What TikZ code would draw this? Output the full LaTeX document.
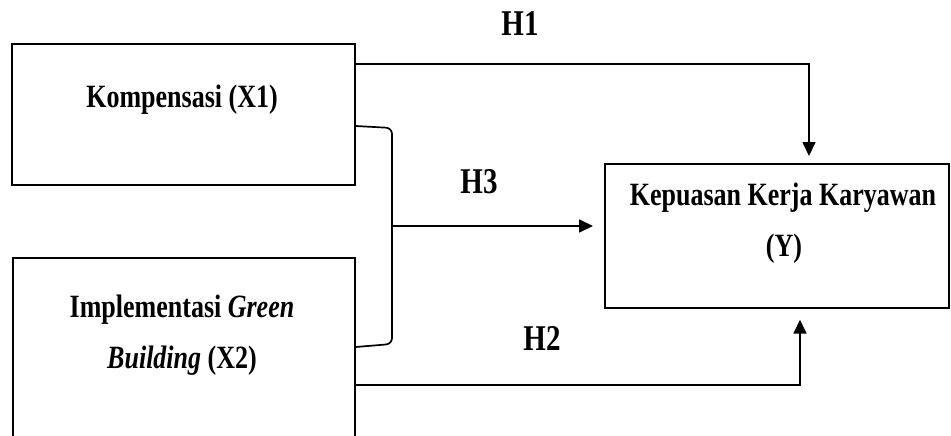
\documentclass[tikz,border=0pt]{standalone}
\usepackage{fontspec}
\setmainfont{Liberation Serif}
\usetikzlibrary{arrows.meta}
\newcommand{\tx}[1]{\scalebox{1}[1.25]{#1}}
\begin{document}
\begin{tikzpicture}[x=1pt,y=-1pt,
  box/.style={draw, line width=1.7pt, rectangle, inner sep=0pt},
  lbl/.style={font=\fontsize{26}{30}\selectfont\bfseries, inner sep=0pt, anchor=base},
  hl/.style={font=\fontsize{29}{33}\selectfont\bfseries, inner sep=0pt, anchor=base},
  conn/.style={line width=1.7pt},
  arr/.style={conn, -{Triangle[length=14pt,width=13pt]}}]
\useasboundingbox (0,0) rectangle (951,436);
\clip (0,0) rectangle (951,436);
% boxes
\node[box, minimum width=343pt, minimum height=141pt, anchor=north west] (x1) at (11,43) {};
\node[box, minimum width=342pt, minimum height=200pt, anchor=north west] (x2) at (12,257) {};
\node[box, minimum width=344pt, minimum height=144pt, anchor=north west] (y) at (604,163) {};
% texts
\node[lbl] (t1) at (182,107) {\tx{Kompensasi (X1)}};
\node[lbl] (t2) at (182,317) {\tx{Implementasi \textit{Green}}};
\node[lbl] (t3) at (182,368) {\tx{\textit{Building} (X2)}};
\node[lbl] (t4) at (783,205) {\tx{Kepuasan Kerja Karyawan}};
\node[lbl] (t5) at (784,256) {\tx{(Y)}};
% hypothesis labels
\node[hl] (h1) at (520,36) {\tx{H1}};
\node[hl] (h3) at (479,193) {\tx{H3}};
\node[hl] (h2) at (542,350) {\tx{H2}};
% connectors
\draw[arr, shorten >=7pt] (x1.east |- 0,64) -| (y.north -| 809,0);
\draw[arr, shorten >=11pt] (x2.east |- 0,385) -| (y.south -| 800,0);
\draw[conn, rounded corners=6pt] (x1.east |- 0,126) -- (392,128) -- (392,344) -- (x2.east |- 0,347);
\coordinate (br) at (392,226);
\draw[arr, shorten >=11pt] (br) -- (y.west |- br);
\end{tikzpicture}
\end{document}
